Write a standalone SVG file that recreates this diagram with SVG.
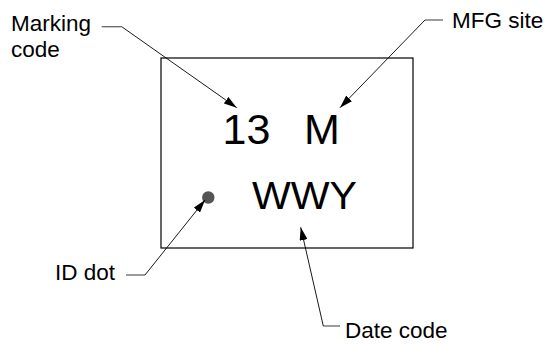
<svg xmlns="http://www.w3.org/2000/svg" width="548" height="347" viewBox="0 0 548 347">
<defs>
<style>
.lbl{font-family:"Liberation Sans",Arial,sans-serif;font-size:22.5px;fill:#000}
.big{font-family:"Liberation Sans",Arial,sans-serif;font-size:43px;fill:#000}
.stub{stroke:#666;stroke-width:1.3;fill:none}
.lead{stroke:#000;stroke-width:0.9;fill:none;marker-end:url(#ah)}
</style>
<marker id="ah" markerUnits="userSpaceOnUse" markerWidth="14" markerHeight="8" refX="13" refY="4" orient="auto">
<path d="M0,0 L13,4 L0,8 z" fill="#000"/>
</marker>
</defs>
<g id="package">
<rect x="161" y="58" width="252" height="190" fill="#fff" stroke="#000" stroke-width="1.2"/>
<text class="big" x="222.5" y="144">13</text>
<text class="big" x="304" y="144">M</text>
<text class="big" x="252" y="209" style="font-size:38px" textLength="105" lengthAdjust="spacingAndGlyphs">WWY</text>
<circle cx="208.3" cy="197.5" r="6.2" fill="#555"/>
</g>
<g id="label-marking">
<text class="lbl" x="11" y="31">Marking</text>
<text class="lbl" x="11" y="56.5">code</text>
</g>
<g id="label-mfg">
<text class="lbl" x="452" y="28">MFG site</text>
</g>
<g id="label-iddot">
<text class="lbl" x="55" y="280">ID dot</text>
</g>
<g id="label-date">
<text class="lbl" x="345" y="338">Date code</text>
</g>
<g id="connectors">
<line class="stub" x1="101.7" y1="26.7" x2="121.7" y2="26.7"/>
<line class="lead" x1="121.7" y1="26.7" x2="236.7" y2="107.7"/>
<line class="stub" x1="425" y1="20" x2="443" y2="20"/>
<line class="lead" x1="425" y1="20" x2="340" y2="107.7"/>
<line class="stub" x1="126" y1="275" x2="145" y2="275"/>
<line class="lead" x1="145" y1="275" x2="205" y2="200"/>
<line class="stub" x1="323.3" y1="326" x2="340" y2="326"/>
<line class="lead" x1="323.3" y1="326" x2="300.7" y2="227.3"/>
</g>
</svg>
